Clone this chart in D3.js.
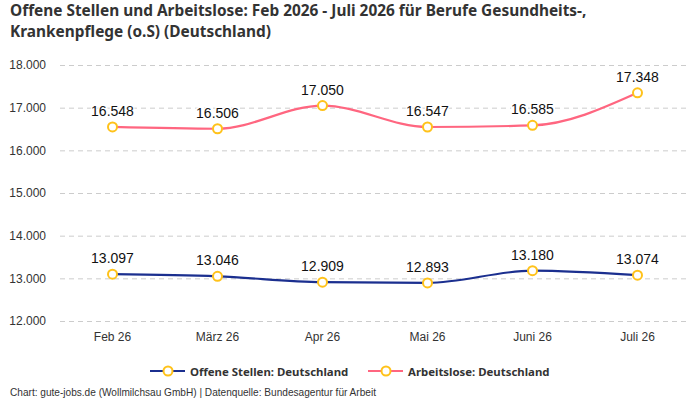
<!DOCTYPE html>
<html><head><meta charset="utf-8">
<script src="https://cdn.jsdelivr.net/npm/d3@7"></script>
<style>body{margin:0;background:#fff}svg{display:block}</style>
</head><body>
<svg id="c" width="700" height="400"></svg>
<script>
const categories = ["Feb 26","März 26","Apr 26","Mai 26","Juni 26","Juli 26"];
const offeneStellen = [13097,13046,12909,12893,13180,13074];
const arbeitslose = [16548,16506,17050,16547,16585,17348];
const yTicks = [12000,13000,14000,15000,16000,17000,18000];
const seriesNames = ["Offene Stellen: Deutschland","Arbeitslose: Deutschland"];
const titleLines = ["Offene Stellen und Arbeitslose: Feb 2026 - Juli 2026 für Berufe Gesundheits-,","Krankenpflege (o.S) (Deutschland)"];
const colors = ["#1b2f8f","#ff6680"];
const markerColor = "#ffc21a";

const svg = d3.select("#c");
const fmt = v => d3.format(",")(v).replace(/,/g,".");
const titleFont = "'Noto Sans', 'Roboto', sans-serif";
const bodyFont = "'Liberation Sans', Arial, sans-serif";

const x = d3.scaleBand().domain(categories).range([60,690]);
const y = d3.scaleLinear().domain([12000,18000]).range([321,65]);

// title
titleLines.forEach((l,i)=>{
  svg.append("text").attr("x",10).attr("y",16+i*21).attr("font-family",titleFont).attr("font-weight",700)
    .attr("font-size",15.4).attr("fill","#333").text(l);
});

// grid
const yAxis = svg.append("g").attr("transform","translate(60,0)")
  .call(d3.axisLeft(y).tickValues(yTicks).tickSize(-630).tickFormat(fmt).tickPadding(14));
yAxis.select(".domain").remove();
yAxis.selectAll(".tick line").attr("stroke","#cccccc").attr("stroke-dasharray","5,4");
yAxis.selectAll(".tick text").attr("font-family",bodyFont).attr("font-size",12).attr("fill","#333");

const xAxis = svg.append("g").attr("transform","translate(0,321)")
  .call(d3.axisBottom(x).tickSize(0).tickPadding(11));
xAxis.select(".domain").remove();
xAxis.selectAll(".tick text").attr("font-family",bodyFont).attr("font-size",12).attr("fill","#333");

const line = d3.line().x((d,i)=>x(categories[i])+x.bandwidth()/2).y(d=>y(d)).curve(d3.curveMonotoneX);
[offeneStellen, arbeitslose].forEach((s,k)=>{
  svg.append("path").datum(s).attr("d",line).attr("fill","none").attr("stroke",colors[k]).attr("stroke-width",2.2);
  svg.selectAll(null).data(s).enter().append("circle")
    .attr("cx",(d,i)=>x(categories[i])+x.bandwidth()/2).attr("cy",d=>y(d)).attr("r",4.5)
    .attr("fill","#fff").attr("stroke",markerColor).attr("stroke-width",2);
  svg.selectAll(null).data(s).enter().append("text")
    .attr("x",(d,i)=>x(categories[i])+x.bandwidth()/2).attr("y",d=>y(d)-11)
    .attr("text-anchor","middle").attr("font-family",bodyFont).attr("font-size",14)
    .attr("fill","#111").attr("stroke","#fff").attr("stroke-width",3)
    .attr("paint-order","stroke").text(fmt);
});

// legend
const legX = [150,368];
seriesNames.forEach((n,k)=>{
  const g = svg.append("g").attr("transform",`translate(${legX[k]},371)`);
  g.append("line").attr("x1",0).attr("x2",35).attr("stroke",colors[k]).attr("stroke-width",2.2);
  g.append("circle").attr("cx",18).attr("r",4.5).attr("fill","#fff").attr("stroke",markerColor).attr("stroke-width",2);
  g.append("text").attr("x",40).attr("y",4.5).attr("font-family",titleFont).attr("font-weight",700)
    .attr("font-size",11.4).attr("fill","#333").text(n);
});

svg.append("text").attr("x",10).attr("y",396).attr("font-family",bodyFont).attr("font-size",10.1)
  .attr("fill","#333").text("Chart: gute-jobs.de (Wollmilchsau GmbH) | Datenquelle: Bundesagentur für Arbeit");
</script>
</body></html>
